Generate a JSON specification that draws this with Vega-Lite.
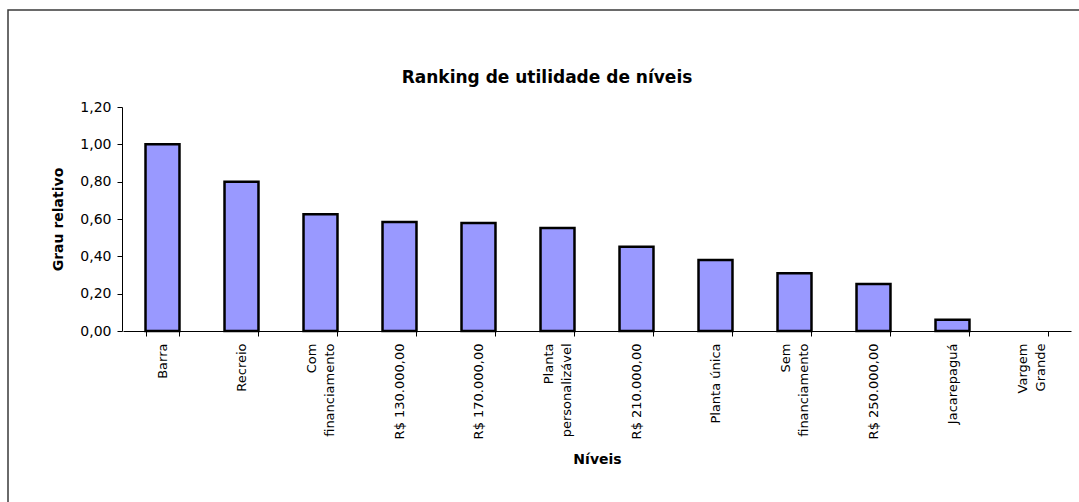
{
  "$schema": "https://vega.github.io/schema/vega-lite/v6.json",
  "autosize": {"type": "none"},
  "padding": {"left": 8, "top": 10, "right": 0, "bottom": 0},
  "width": 1078,
  "height": 500,
  "background": "#ffffff",
  "config": {
    "locale": {"number": {"decimal": ",", "thousands": ".", "grouping": [3], "currency": ["R$ ", ""]}},
    "view": {"stroke": "#3a3a3a", "strokeWidth": 1.5},
    "font": "DejaVu Sans"
  },
  "title": {
    "text": "Ranking de utilidade de níveis",
    "orient": "top",
    "frame": "group",
    "anchor": "middle",
    "baseline": "alphabetic",
    "offset": -90,
    "font": "DejaVu Sans",
    "fontSize": 17,
    "fontWeight": "bold",
    "color": "#000000"
  },
  "data": {
    "values": [
      {"nivel": "Barra", "grau": 1.0},
      {"nivel": "Recreio", "grau": 0.8},
      {"nivel": "Com\nfinanciamento", "grau": 0.626},
      {"nivel": "R$ 130.000,00", "grau": 0.584},
      {"nivel": "R$ 170.000,00", "grau": 0.578},
      {"nivel": "Planta\npersonalizável", "grau": 0.552},
      {"nivel": "R$ 210.000,00", "grau": 0.451},
      {"nivel": "Planta única", "grau": 0.38},
      {"nivel": "Sem\nfinanciamento", "grau": 0.31},
      {"nivel": "R$ 250.000,00", "grau": 0.252},
      {"nivel": "Jacarepaguá", "grau": 0.06},
      {"nivel": "Vargem\nGrande", "grau": 0.0}
    ]
  },
  "mark": {"type": "bar", "fill": "#9999ff", "stroke": "#000000"},
  "encoding": {
    "strokeWidth": {"condition": {"test": "datum.grau > 0", "value": 2.5}, "value": 0},
    "x": {
      "field": "nivel",
      "type": "nominal",
      "sort": null,
      "title": "Níveis",
      "scale": {"range": [115, 1063], "paddingInner": 0.57, "paddingOuter": 0.285},
      "axis": {
        "orient": "bottom",
        "offset": -179,
        "labelAngle": -90,
        "labelAlign": "right",
        "labelBaseline": "middle",
        "labelExpr": "split(datum.label, '\\n')",
        "labelLineHeight": 18,
        "labelOffset": {"condition": {"test": "indexof(datum.label, '\\n') >= 0", "value": -9}, "value": 0},
        "labelFont": "DejaVu Sans",
        "labelFontSize": 13,
        "labelColor": "#000000",
        "labelPadding": 7,
        "tickBand": "extent",
        "tickSize": 5,
        "tickColor": "#000000",
        "domainColor": "#000000",
        "titleFont": "DejaVu Sans",
        "titleFontSize": 14,
        "titleFontWeight": "bold",
        "titleColor": "#000000",
        "titlePadding": 14
      }
    },
    "y": {
      "field": "grau",
      "type": "quantitative",
      "title": "Grau relativo",
      "scale": {"domain": [0, 1.2], "range": [321, 97], "nice": false},
      "axis": {
        "orient": "left",
        "offset": -114,
        "values": [0, 0.2, 0.4, 0.6, 0.8, 1.0, 1.2],
        "format": ".2f",
        "grid": false,
        "labelFont": "DejaVu Sans",
        "labelFontSize": 14,
        "labelColor": "#000000",
        "labelPadding": 6,
        "tickSize": 5,
        "tickColor": "#000000",
        "domainColor": "#000000",
        "titleFont": "DejaVu Sans",
        "titleFontSize": 14,
        "titleFontWeight": "bold",
        "titleColor": "#000000",
        "titlePadding": 14
      }
    }
  }
}
